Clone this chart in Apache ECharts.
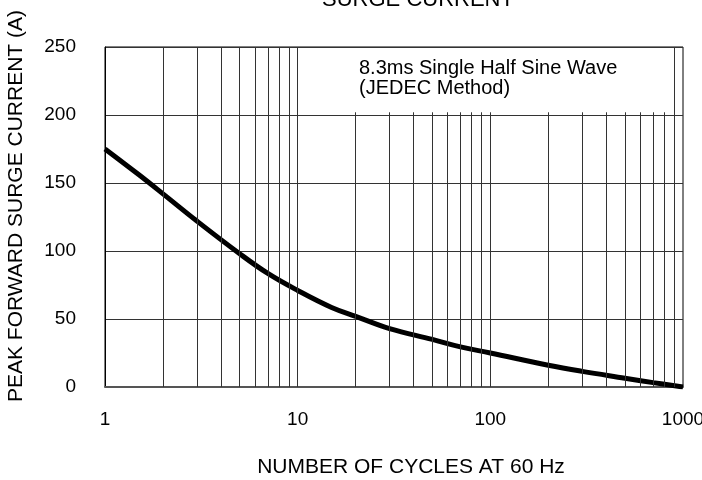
<!DOCTYPE html>
<html>
<head>
<meta charset="utf-8">
<title>Surge Current</title>
<script src="https://cdn.jsdelivr.net/npm/echarts@6/dist/echarts.min.js"></script>
<style>
  html, body { margin: 0; padding: 0; background: #fff; }
  #chart { width: 702px; height: 480px; }
</style>
</head>
<body>
<div id="chart"></div>
<script>
// number of cycles at 60 Hz
const cycles = [1, 1.5, 2, 3, 5, 7, 10, 15, 20, 30, 50, 70, 100, 200, 300, 500, 700, 1000]
// peak forward surge current (A)
const current = [175, 156, 142, 122, 98, 83.5, 71, 58.5, 52, 43, 35, 29.5, 25, 16, 11.5, 6.5, 3.2, 0]
// vertical grid lines (minor decades)
const gridX = [2, 3, 4, 5, 6, 7, 8, 9, 10, 20, 30, 40, 50, 60, 70, 80, 90, 100, 200, 300, 400, 500, 600, 700, 800, 900]
// lines that stop under the note box
const boxFrom = 20
const boxTo = 800
const boxBottom = 202

const font = '"Liberation Sans", Arial, sans-serif'
const chart = echarts.init(document.getElementById('chart'))

// grid lines drawn as markLines, clipped under the text box
const vLines = gridX.map((x) => {
  const top = (x >= boxFrom && x <= boxTo) ? boxBottom : 250
  return [{ coord: [x, 0] }, { coord: [x, top] }]
})

chart.setOption({
  animation: false,
  textStyle: { fontFamily: font, color: '#000' },
  title: {
    text: 'SURGE CURRENT',
    left: 413,
    textAlign: 'center',
    top: -16,
    textStyle: { fontFamily: font, fontSize: 22, fontWeight: 'normal', color: '#000' }
  },
  grid: {
    left: 105,
    right: 19,
    top: 47,
    bottom: 93,
    outerBoundsMode: 'none',
    containLabel: false,
    show: true,
    borderColor: '#000',
    borderWidth: 1
  },
  xAxis: {
    type: 'log',
    logBase: 10,
    min: 1,
    max: 1000,
    name: 'NUMBER OF CYCLES AT 60 Hz',
    nameLocation: 'middle',
    nameGap: 70,
    nameTextStyle: { fontSize: 21, color: '#000', padding: [0, 0, 0, 34] },
    axisLine: { show: true, lineStyle: { color: '#555', width: 2 } },
    axisTick: { show: false },
    axisLabel: {
      fontSize: 19,
      color: '#000',
      margin: 23,
      formatter: (v) => String(Math.round(v))
    },
    splitLine: { show: false }
  },
  yAxis: {
    type: 'value',
    min: 0,
    max: 250,
    interval: 50,
    name: 'PEAK FORWARD SURGE CURRENT (A)',
    nameLocation: 'middle',
    nameGap: 78,
    nameTextStyle: { fontSize: 21, color: '#000', padding: [0, 0, 0, 22] },
    axisLine: { show: true, lineStyle: { color: '#000', width: 1 } },
    axisTick: { show: false },
    axisLabel: { fontSize: 19, color: '#000', margin: 29 },
    splitLine: { show: true, lineStyle: { color: '#333', width: 1 } }
  },
  graphic: [
    {
      type: 'text',
      left: 359,
      top: 58,
      style: {
        text: '8.3ms Single Half Sine Wave\n(JEDEC Method)',
        font: '20px ' + font,
        lineHeight: 20,
        fill: '#000'
      }
    }
  ],
  series: [
    {
      type: 'line',
      data: cycles.map((c, i) => [c, current[i]]),
      smooth: 0.4,
      symbol: 'none',
      lineStyle: { color: '#000', width: 5 },
      markLine: {
        silent: true,
        symbol: 'none',
        label: { show: false },
        lineStyle: { color: '#333', width: 1, type: 'solid' },
        data: vLines
      }
    }
  ]
})
</script>
</body>
</html>
